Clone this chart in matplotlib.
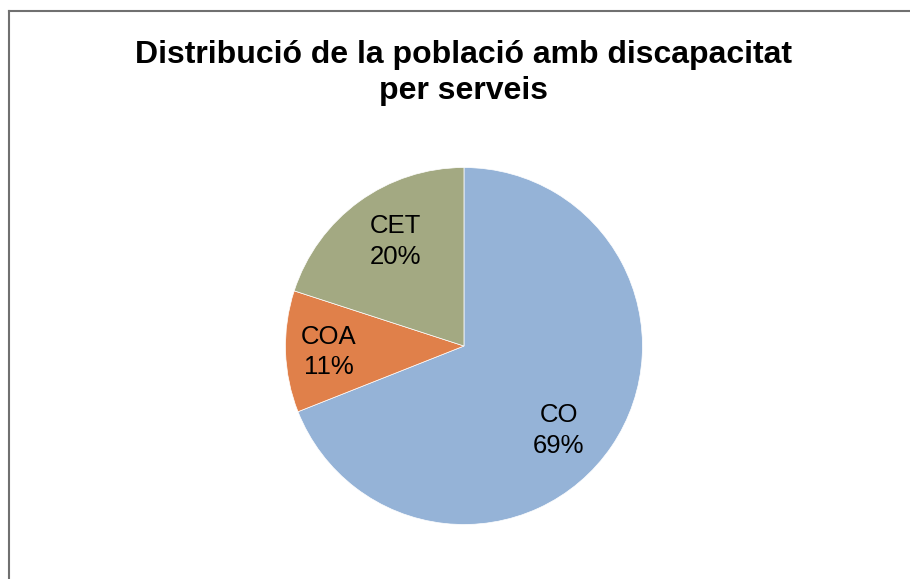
import numpy as np
import matplotlib.pyplot as plt
from matplotlib.lines import Line2D

plt.rcParams['font.family'] = ['Liberation Sans', 'DejaVu Sans']

labels = ['CO', 'COA', 'CET']
values = [69, 11, 20]
colors = ['#95B3D7', '#E0804A', '#A3A982']
title = 'Distribució de la població amb discapacitat\nper serveis'

fig = plt.figure(figsize=(9.1, 5.79), dpi=100)

# chart frame (only left and top edges show in the crop)
fig.add_artist(Line2D([8.5/910, 8.5/910], [0, 1 - 11/579], color='#707070', lw=1.5))
fig.add_artist(Line2D([8.5/910, 1], [1 - 11/579, 1 - 11/579], color='#707070', lw=1.5))

fig.text(464/910, 1 - 73/579, title, ha='center', va='center',
         fontsize=23, fontweight='bold', linespacing=1.28)

ax = fig.add_axes([0.3137, 0.0941, 0.3923, 0.6166])
wedges, _ = ax.pie(values, colors=colors, startangle=90, counterclock=False,
                   radius=1, wedgeprops=dict(edgecolor='white', linewidth=0.5))
ax.set_xlim(-1, 1)
ax.set_ylim(-1, 1)
ax.set_aspect('equal')

# label placement tweaks (distance from centre, angle shift in degrees)
label_r = [0.71, 0.76, 0.70]
label_shift = [-7.5, 0.7, -2.5]

total = sum(values)
for w, lab, v, r, s in zip(wedges, labels, values, label_r, label_shift):
    mid = np.deg2rad((w.theta1 + w.theta2) / 2 + s)
    ax.text(r * np.cos(mid), r * np.sin(mid), f'{lab}\n{round(100 * v / total)}%',
            ha='center', va='center', fontsize=18.5, linespacing=1.35)

fig.savefig('out.png', dpi=100)
